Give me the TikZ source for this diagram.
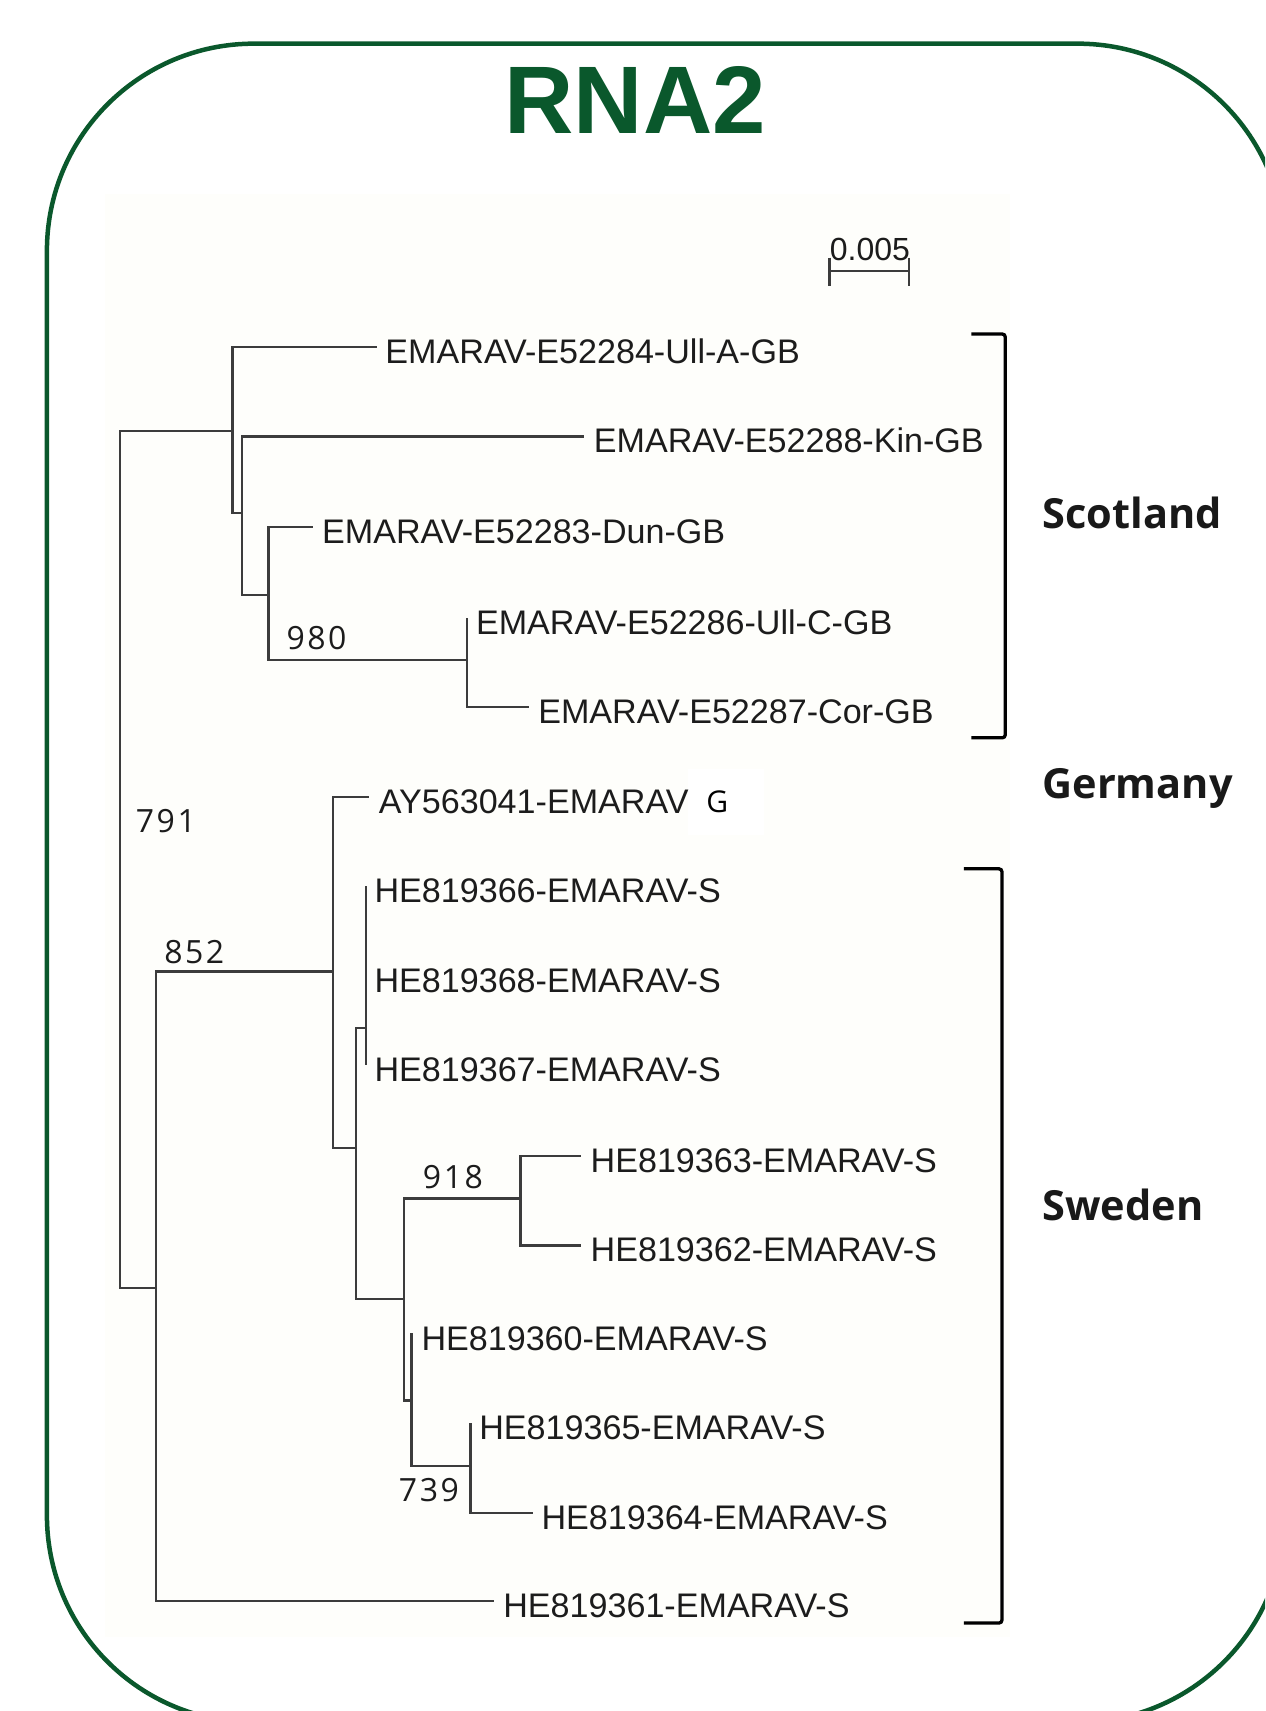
\documentclass[tikz,border=0pt]{standalone}
\usepackage{fontspec}
\setmainfont{Liberation Sans}
\newfontfamily\labfont{Liberation Sans}
\newfontfamily\bootfont{Open Sans}[LetterSpace=8]
\newfontfamily\cfont{Open Sans}
\definecolor{framegreen}{RGB}{10,88,44}
\definecolor{treegray}{RGB}{60,60,60}
\definecolor{labgray}{RGB}{28,28,28}
\definecolor{offwhite}{RGB}{254,254,251}
\begin{document}
\begin{tikzpicture}[x=1.0915pt,y=-1.0915pt,
  tree/.style={draw=treegray,line width=2.3pt},
  leaf/.style={anchor=west,inner sep=0pt,font=\labfont\fontsize{34.1}{40}\selectfont,text height=24pt,text depth=0pt,text=labgray},
  boot/.style={inner sep=0pt,font=\bootfont\fontsize{32}{38}\selectfont,text=labgray},
  country/.style={anchor=west,inner sep=0pt,font=\cfont\bfseries\fontsize{41.5}{48}\selectfont,text=black!90},
  bracketline/.style={draw=black,line width=3.3pt,rounded corners=3pt}]
\useasboundingbox (0,0) rectangle (1159,1567.6);
\fill[white] (0,0) rectangle (1159,1567.6);
\fill[offwhite] (96,178) rectangle (925,1500);
\fill[white] (630,705) rectangle (700,765);
% frame
\begin{scope}
\clip (0,0) rectangle (1159,1567.6);
\draw[framegreen,line width=4.5pt,rounded corners=207pt] (43,40) rectangle (1177,1578);
\end{scope}
% title
\node[inner sep=0pt,font=\fontsize{96}{110}\selectfont\bfseries,text=framegreen] (title) at (582,92) {RNA2};
% scale bar
\node[inner sep=0pt,font=\labfont\fontsize{32}{36}\selectfont,text=labgray] (sbt) at (797,229) {0.005};
\coordinate (sb1) at (760,248); \coordinate (sb2) at (833,248);
\coordinate (sb1t) at (760,236); \coordinate (sb1b) at (760,262);
\coordinate (sb2t) at (833,236); \coordinate (sb2b) at (833,262);
\draw[tree] (sb1) -- (sb2);
\draw[tree] (sb1t) -- (sb1b);
\draw[tree] (sb2t) -- (sb2b);
% leaf labels
\node[leaf] (l1) at (353,322) {EMARAV-E52284-Ull-A-GB};
\node[leaf] (l2) at (544,404) {EMARAV-E52288-Kin-GB};
\node[leaf] (l3) at (295,487) {EMARAV-E52283-Dun-GB};
\node[leaf] (l4) at (436,570) {EMARAV-E52286-Ull-C-GB};
\node[leaf] (l5) at (493,652) {EMARAV-E52287-Cor-GB};
\node[leaf] (l6) at (347,734) {AY563041-EMARAV};
\node[anchor=west,inner sep=0pt,font=\cfont\fontsize{30}{36}\selectfont,text=black] (l6g) at (647,735) {G};
\node[leaf] (l7) at (343,816) {HE819366-EMARAV-S};
\node[leaf] (l8) at (343,898) {HE819368-EMARAV-S};
\node[leaf] (l9) at (343,980) {HE819367-EMARAV-S};
\node[leaf] (l10) at (541,1063) {HE819363-EMARAV-S};
\node[leaf] (l11) at (541,1145) {HE819362-EMARAV-S};
\node[leaf] (l12) at (386,1226) {HE819360-EMARAV-S};
\node[leaf] (l13) at (439,1308) {HE819365-EMARAV-S};
\node[leaf] (l14) at (496,1390) {HE819364-EMARAV-S};
\node[leaf] (l15) at (461,1471) {HE819361-EMARAV-S};
% tips
\coordinate (t1) at (345,318);
\coordinate (t2) at (535,400);
\coordinate (t3) at (287,483);
\coordinate (t4) at (428,566);
\coordinate (t5) at (485,648);
\coordinate (t6) at (338,730);
\coordinate (t7) at (335,812);
\coordinate (t8) at (335,894);
\coordinate (t9) at (335,976);
\coordinate (t10) at (532,1059);
\coordinate (t11) at (532,1141);
\coordinate (t12) at (378,1222);
\coordinate (t13) at (431,1304);
\coordinate (t14) at (488,1386);
\coordinate (t15) at (453,1467);
% internal nodes
\coordinate (Rt) at (110,395);
\coordinate (Rb) at (110,1180);
\coordinate (A) at (213,395);
\coordinate (B) at (222,470);
\coordinate (C) at (246,545);
\coordinate (D) at (428,605);
\coordinate (E) at (143,1180);
\coordinate (F) at (305,890);
\coordinate (G) at (326,1052);
\coordinate (H) at (335,942);
\coordinate (I) at (370,1190);
\coordinate (J) at (477,1098);
\coordinate (K) at (377,1283);
\coordinate (L) at (431,1343);
% edges
\draw[tree] (A) -- (Rt) -- (Rb) -- (E);
\draw[tree] (A) |- (t1);
\draw[tree] (A) |- (B);
\draw[tree] (B) |- (t2);
\draw[tree] (B) |- (C);
\draw[tree] (C) |- (t3);
\draw[tree] (C) |- (D);
\draw[tree] (D) |- (t4);
\draw[tree] (D) |- (t5);
\draw[tree] (E) |- (F);
\draw[tree] (E) |- (t15);
\draw[tree] (F) |- (t6);
\draw[tree] (F) |- (G);
\draw[tree] (G) |- (H);
\draw[tree] (G) |- (I);
\draw[tree] (H) |- (t7);
\draw[tree] (H) |- (t8);
\draw[tree] (H) |- (t9);
\draw[tree] (I) |- (J);
\draw[tree] (I) |- (K);
\draw[tree] (J) |- (t10);
\draw[tree] (J) |- (t11);
\draw[tree] (K) |- (t12);
\draw[tree] (K) |- (L);
\draw[tree] (L) |- (t13);
\draw[tree] (L) |- (t14);
% bootstrap values
\node[boot] (b980) at (290,585) {980};
\node[boot] (b791) at (152,752) {791};
\node[boot] (b852) at (178,872) {852};
\node[boot] (b918) at (415,1078) {918};
\node[boot] (b739) at (393,1365) {739};
% brackets
\coordinate (sc1) at (890,306); \coordinate (sc2) at (921,306);
\coordinate (sc3) at (921,676); \coordinate (sc4) at (890,676);
\draw[bracketline] (sc1) -- (sc2) -- (sc3) -- (sc4);
\coordinate (sw1) at (883,796); \coordinate (sw2) at (918,796);
\coordinate (sw3) at (918,1487); \coordinate (sw4) at (883,1487);
\draw[bracketline] (sw1) -- (sw2) -- (sw3) -- (sw4);
% countries
\node[country] (scot) at (955,470) {Scotland};
\node[country] (germ) at (955,722) {Germany};
\node[country] (swed) at (955,1104) {Sweden};
\end{tikzpicture}
\end{document}
